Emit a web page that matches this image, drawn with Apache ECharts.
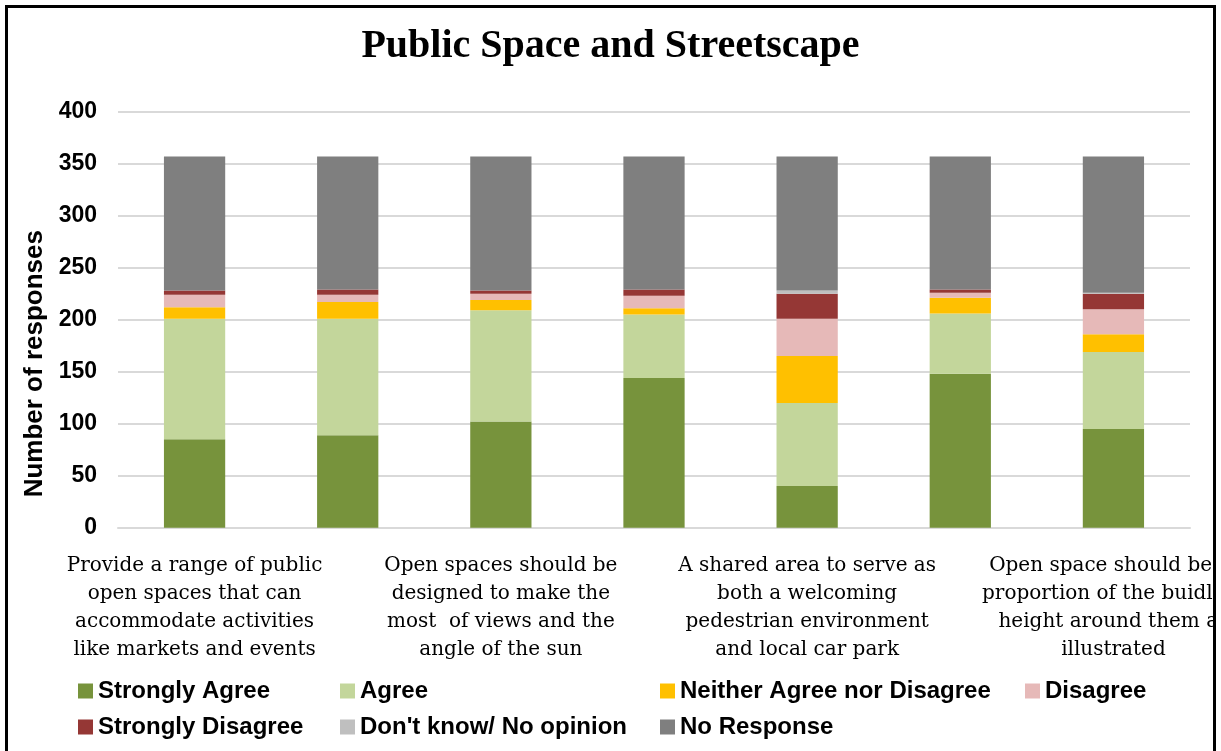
<!DOCTYPE html>
<html>
<head>
<meta charset="utf-8">
<script src="https://cdn.jsdelivr.net/npm/echarts@6/dist/echarts.min.js"></script>
<style>
html,body{margin:0;padding:0;background:#fff;}
#chart{width:1221px;height:751px;}
</style>
</head>
<body>
<div id="chart"></div>
<script>
const categories = [
  "Provide a range of public\nopen spaces that can\naccommodate activities\nlike markets and events",
  "Cat 2",
  "Open spaces should be\ndesigned to make the\nmost  of views and the\nangle of the sun",
  "Cat 4",
  "A shared area to serve as\nboth a welcoming\npedestrian environment\nand local car park",
  "Cat 6",
  "Open space should be in\nproportion of the buidling\nheight around them as\nillustrated"
];
const seriesNames = ["Strongly Agree","Agree","Neither Agree nor Disagree","Disagree","Strongly Disagree","Don't know/ No opinion","No Response"];
const stronglyAgree    = [85, 89, 102, 144, 40, 148, 95];
const agree            = [116, 112, 107, 61, 80, 58, 74];
const neither          = [11, 16, 10, 6, 45, 15, 17];
const disagree         = [12, 7, 6, 12, 36, 5, 24];
const stronglyDisagree = [4, 5, 3, 6, 24, 3, 15];
const dontKnow         = [0, 0, 0, 0, 3, 0, 1];
const noResponse       = [129, 128, 129, 128, 129, 128, 131];
const yTicks = [0, 50, 100, 150, 200, 250, 300, 350, 400];

const colors = ["#77933C","#C3D69B","#FFC000","#E6B9B8","#953735","#BFBFBF","#7F7F7F"];
const values = [stronglyAgree, agree, neither, disagree, stronglyDisagree, dontKnow, noResponse];

const chart = echarts.init(document.getElementById('chart'));
const legendText = {fontFamily:'Liberation Sans, Arial, sans-serif', fontWeight:'bold', fontSize:24, color:'#000'};
function mkLegend(left, data){
  return {orient:'vertical', left:left, top:679, itemWidth:15, itemHeight:15, itemGap:12,
    icon:'rect', textStyle:legendText, data:data, selectedMode:false, padding:0};
}
chart.setOption({
  animation:false,
  color: colors,
  title:{text:'Public Space and Streetscape', left:'center', top:22,
    textStyle:{fontFamily:'Liberation Serif, serif', fontWeight:'bold', fontSize:40, color:'#000'}},
  grid:{left:118, right:31, top:111.7, bottom:223.3, containLabel:false, outerBoundsMode:'none'},
  legend:[
    mkLegend(78, [seriesNames[0], seriesNames[4]]),
    mkLegend(340, [seriesNames[1], seriesNames[5]]),
    mkLegend(660, [seriesNames[2], seriesNames[6]]),
    mkLegend(1025, [seriesNames[3]])
  ],
  xAxis:{type:'category', data:categories,
    axisLine:{show:true, lineStyle:{color:'#d9d9d9', width:2}},
    axisTick:{show:false},
    axisLabel:{interval:1, margin:24, fontFamily:'DejaVu Serif, serif', fontSize:20, lineHeight:28, color:'#000', align:'center'}},
  yAxis:{type:'value', min:0, max:400, interval:50,
    name:'Number of responses', nameLocation:'middle', nameGap:70,
    nameTextStyle:{fontFamily:'Liberation Sans, Arial, sans-serif', fontWeight:'bold', fontSize:26, color:'#000', padding:[0,88,0,0]},
    axisLine:{show:false}, axisTick:{show:false},
    axisLabel:{margin:21, fontFamily:'Liberation Sans, Arial, sans-serif', fontWeight:'bold', fontSize:23, color:'#000',
      formatter:function(v){ return yTicks.indexOf(v) >= 0 ? String(v) : ''; }},
    splitLine:{lineStyle:{color:'#d9d9d9', width:2}}},
  series: seriesNames.map((n,i)=>({name:n, type:'bar', stack:'total', data:values[i], barCategoryGap:'60%',
    itemStyle:{color:colors[i]}})),
  graphic:[
    {type:'rect', z:100, shape:{x:1214, y:0, width:7, height:751}, style:{fill:'#fff'}},
    {type:'rect', z:101, shape:{x:6.5, y:6.5, width:1208, height:800}, style:{fill:'none', stroke:'#000', lineWidth:3}}
  ]
});
</script>
</body>
</html>
